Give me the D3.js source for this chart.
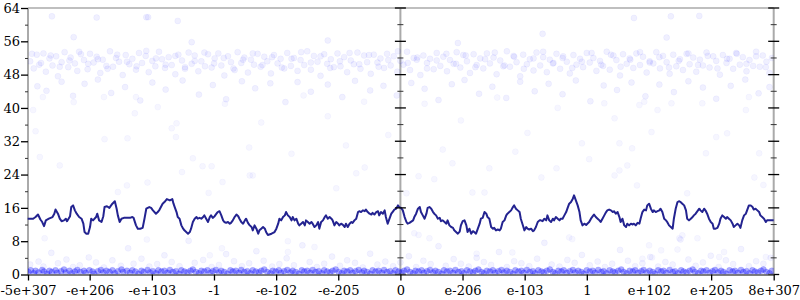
<!DOCTYPE html>
<html><head><meta charset="utf-8">
<script src="https://cdn.jsdelivr.net/npm/d3@7"></script>
<style>
html,body{margin:0;padding:0;background:#fff;}
svg{display:block;font-family:"DejaVu Serif",serif;}
</style></head><body>
<svg id="c" width="800" height="300"></svg>
<script>
// x values are positions in floating-point order, in signed decades (u = sign * (log10|v| + 308))
const xDomain = [-615.5, 617.0];
const xTickValues = [-615.5, -513.6, -410.8, -308.1, -205.4, -102.7, 0, 102.7, 205.4, 308.1, 410.8, 513.6, 617.0];
const xTickLabels = ["-5e+307", "-e+206", "-e+103", "-1", "-e-102", "-e-205", "0", "e-206", "e-103", "1", "e+102", "e+205", "8e+307"];
const yMajorTicks = [0, 8, 16, 24, 32, 40, 48, 56, 64];
const yMinorTicks = [4, 12, 20, 28, 36, 44, 52, 60];

const lineAvg = [[-616,13.4],[-607,13.4],[-603,13.8],[-599,14.4],[-595,13.2],[-592,12.6],[-589,11.6],[-586,13.0],[-581,13.4],[-575,13.8],[-572,14.6],[-570,15.6],[-566,14.6],[-563,13.4],[-560,12.8],[-556,13.0],[-553,13.4],[-551,12.8],[-546,14.0],[-544,16.2],[-541,16.6],[-538,15.4],[-535,14.6],[-531,13.8],[-527,13.4],[-524,12.2],[-522,10.2],[-519,9.8],[-516,9.8],[-513,11.4],[-511,13.4],[-508,13.0],[-503,13.8],[-501,14.6],[-498,13.0],[-494,12.6],[-491,14.0],[-489,16.2],[-485,16.4],[-481,16.0],[-479,16.4],[-476,17.0],[-472,17.6],[-469,15.8],[-467,14.2],[-464,12.6],[-461,13.4],[-457,13.6],[-453,13.6],[-447,13.6],[-443,13.8],[-441,13.6],[-437,11.8],[-434,11.0],[-430,11.0],[-426,11.2],[-423,13.4],[-420,15.8],[-415,16.2],[-412,16.0],[-409,15.4],[-404,14.6],[-401,15.0],[-398,15.6],[-393,17.0],[-390,17.4],[-386,18.1],[-381,17.8],[-377,18.1],[-375,17.0],[-373,16.2],
[-370,15.0],[-368,13.8],[-365,13.4],[-362,11.8],[-359,11.0],[-357,10.6],[-354,10.2],[-351,9.8],[-348,10.2],[-346,11.0],[-343,12.6],[-340,13.4],[-337,13.8],[-335,13.4],[-332,13.6],[-329,13.4],[-326,13.8],[-324,14.2],[-321,13.4],[-318,12.6],[-315,13.8],[-313,14.2],[-310,13.6],[-307,14.0],[-304,14.6],[-302,15.0],[-299,15.2],[-296,14.2],[-293,13.0],[-291,12.6],[-288,12.4],[-285,12.6],[-282,12.2],[-280,12.4],[-277,13.0],[-274,13.8],[-271,14.4],[-268,14.0],[-266,13.4],[-263,12.6],[-260,12.2],[-257,13.0],[-255,13.4],[-252,12.4],[-249,11.8],[-246,11.4],[-244,10.6],[-241,11.8],[-238,11.0],[-235,9.8],[-233,10.6],[-230,11.0],[-227,11.4],[-224,11.0],[-222,10.2],[-219,9.5],[-213,9.8],[-208,10.2],[-205,11.0],[-202,12.2],[-200,13.4],[-197,13.0],[-194,13.8],[-191,14.2],[-189,15.0],[-186,14.2],[-183,13.8],[-180,13.0],[-178,13.8],[-175,13.0],[-172,13.4],[-169,12.2],[-167,11.8],[-164,12.2],[-161,12.6],[-158,11.8],[-156,13.0],[-153,12.6],[-150,12.2],[-147,12.6],[-145,12.2],[-142,11.4],[-139,11.8],[-136,12.6],[-134,11.0],[-131,12.6],[-128,13.0],[-125,13.8],[-123,14.2],[-120,13.4],
[-117,13.8],[-114,13.4],[-112,13.0],[-109,11.8],[-106,12.6],[-103,12.2],[-101,11.8],[-98,12.2],[-95,11.9],[-92,11.4],[-90,12.2],[-87,11.4],[-84,12.2],[-81,12.6],[-79,12.4],[-76,13.0],[-73,13.4],[-70,15.0],[-68,15.2],[-65,15.0],[-62,15.4],[-59,15.2],[-57,15.6],[-54,15.0],[-51,14.6],[-48,14.4],[-46,14.8],[-43,14.4],[-40,15.0],[-37,15.2],[-35,14.2],[-32,15.0],[-29,14.6],[-26,15.4],[-24,13.8],[-21,12.2],[-18,13.4],[-15,14.6],[-13,15.0],[-10,15.6],[-7,15.8],[-4,16.6],[-2,16.2],[1,16.0],[4,15.4],[7,13.8],[10,12.6],[12,12.2],[15,12.4],[18,12.7],[21,13.0],[23,13.8],[26,14.6],[29,15.8],[32,16.2],[34,15.0],[37,14.2],[40,13.4],[43,14.6],[45,16.0],[48,16.2],[51,15.8],[54,15.0],[56,14.6],[59,14.2],[62,13.4],[65,13.6],[67,12.8],[70,13.0],[73,12.6],[76,12.2],[78,13.0],[81,11.8],[84,11.4],[87,11.2],[89,10.6],[92,10.2],[95,9.8],[98,10.3],[100,11.8],[103,12.8],[106,13.0],[109,11.8],[111,10.2],[114,11.0],[117,9.8],[120,10.4],[122,10.2],[125,9.8],[128,11.0],[131,12.2],[133,13.4],[136,13.6],
[139,15.0],[142,14.6],[144,13.8],[147,13.4],[150,11.4],[153,11.0],[155,11.2],[158,10.6],[161,10.8],[164,10.6],[166,11.0],[169,12.6],[172,13.0],[175,14.2],[177,14.6],[180,15.0],[183,15.4],[186,16.2],[188,16.6],[191,15.8],[194,15.4],[197,15.0],[199,13.4],[202,12.0],[205,10.6],[208,11.4],[210,11.0],[213,10.8],[216,11.0],[219,10.4],[221,10.6],[224,11.4],[227,12.6],[230,13.0],[232,13.0],[235,12.8],[238,13.4],[241,13.0],[243,14.2],[246,13.0],[249,12.6],[252,13.4],[254,13.0],[257,13.8],[260,13.4],[263,13.0],[265,13.4],[268,13.4],[271,14.2],[274,15.0],[276,15.8],[279,17.0],[282,17.4],[285,18.2],[287,19.0],[290,17.8],[293,16.6],[296,15.0],[298,13.0],[301,11.8],[304,12.2],[307,11.9],[309,12.2],[312,12.6],[315,13.4],[318,14.0],[320,14.4],[323,13.8],[326,13.4],[329,13.0],[331,12.6],[334,13.4],[337,14.2],[340,15.0],[342,15.4],[345,15.6],[348,15.4],[351,15.0],[353,15.2],[356,14.6],[359,15.0],[362,13.8],[364,12.6],[367,13.4],[370,11.8],[373,11.4],[375,12.2],[378,11.8],[381,12.2],[384,12.0],[386,12.2],[389,11.8],[392,12.4],
[395,12.2],[397,13.4],[400,15.0],[403,15.6],[406,15.4],[408,16.6],[411,17.0],[414,15.8],[417,15.0],[419,15.4],[422,15.0],[425,15.2],[428,15.4],[430,15.8],[433,15.0],[436,13.4],[439,13.0],[441,12.6],[444,11.8],[447,11.4],[450,11.0],[452,13.4],[455,15.8],[458,17.4],[461,17.6],[463,17.4],[466,17.0],[469,16.6],[472,15.4],[474,13.4],[477,13.0],[480,13.4],[483,13.8],[485,14.2],[488,14.6],[491,15.2],[494,15.8],[496,15.4],[499,15.0],[502,15.8],[505,15.2],[507,14.6],[510,13.4],[513,12.6],[516,12.2],[518,11.0],[521,11.0],[524,11.2],[527,12.2],[529,13.4],[532,14.2],[535,13.8],[538,13.4],[540,13.8],[543,13.4],[546,13.0],[549,12.2],[551,11.4],[554,11.8],[557,12.2],[560,11.8],[562,11.2],[565,13.0],[568,14.2],[571,14.6],[573,15.4],[576,16.6],[579,16.6],[582,16.2],[584,15.6],[587,15.8],[590,15.4],[593,15.0],[595,14.2],[598,13.8],[601,13.4],[604,12.6],[606,13.0],[609,13.0],[612,13.0],[615,13.0],[617,13.0]];

const highBand = [[-612,51.2],[-606,49.5],[-601,52.8],[-597,50.4],[-590,53.1],[-586,48.7],[-580,51.9],[-575,50.2],[-569,52.4],[-566,47.6],[-560,51.0],[-555,53.4],[-549,49.8],[-545,52.1],[-538,50.7],[-534,48.9],[-528,52.9],[-523,51.5],[-517,49.3],[-513,53.0],[-507,50.9],[-502,52.3],[-496,48.4],[-492,51.6],[-486,50.1],[-480,53.6],[-475,49.9],[-470,52.0],[-465,51.1],[-459,47.9],[-454,52.7],[-448,50.5],[-443,51.8],[-437,49.2],[-432,53.2],[-427,50.8],[-421,52.5],[-416,48.6],[-410,51.3],[-405,50.0],[-399,53.5],[-394,51.7],[-389,49.6],[-383,52.2],[-378,50.3],[-372,48.1],[-367,52.8],[-361,51.4],[-356,49.4],[-350,53.3],[-345,50.6],[-340,52.6],[-334,48.8],[-329,51.2],[-323,50.0],[-318,52.9],[-312,49.7],[-307,51.9],[-301,53.1],[-296,50.2],[-291,47.8],[-285,52.4],[-280,51.0],[-274,49.1],[-269,53.4],[-263,50.8],[-258,52.1],[-252,48.5],[-247,51.6],[-242,50.4],[-236,53.0],[-231,49.9],[-225,52.3],[-220,51.2],[-214,48.3],[-209,52.7],[-203,50.7],[-198,51.8],[-192,49.5],[-187,53.2],[-181,50.1],[-176,52.0],[-170,48.9],[-165,51.5],[-159,50.3],[-154,53.6],[-148,49.2],[-143,52.5],[-137,51.1],[-132,47.7],[-126,52.9],[-121,50.6],[-115,51.7],[-110,49.8],[-104,53.1],[-99,50.0],[-93,52.2],[-88,48.6],[-82,51.4],[-77,50.5],[-71,53.3],[-66,49.4],[-60,52.6],[-55,51.0],[-49,48.2],[-44,52.8],[-38,50.9],[-33,51.9],[-27,49.6],[-22,53.0],[-16,50.2],[-11,52.4],[-5,48.7],[0,51.3],[5,50.4],[11,53.5],[16,49.1],[22,52.0],[27,51.6],[33,47.9],[38,52.6],[44,50.8],[49,51.8],[55,49.3],[60,53.2],[66,50.1],[71,52.3],[77,48.8],[82,51.5],[88,50.6],[93,53.4],[99,49.7],[104,52.7],[110,51.2],[115,48.4],[121,52.9],[126,50.3],[132,51.9],[137,49.5],[143,53.1],[148,50.7],[154,52.1],[159,48.1],[165,51.4],[170,50.0],[176,53.6],[181,49.9],[187,52.5],[192,51.0],[198,47.6],[203,52.8],[209,50.5],[214,51.7],[220,49.0],[225,53.3],[231,50.2],[236,52.2],[242,48.6],[247,51.6],[253,50.8],[258,53.0],[264,49.4],[269,52.4],[275,51.1],[280,48.3],[286,52.7],[291,50.4],[297,51.8],[302,49.8],[308,53.2],[313,50.9],[319,52.0],[324,48.9],[330,51.3],[335,50.1],[341,53.5],[346,49.2],[352,52.6],[357,51.5],[363,47.8],[368,52.9],[374,50.6],[379,51.9],[385,49.6],[390,53.1],[396,50.3],[401,52.3],[407,48.5],[412,51.2],[418,50.7],[423,53.4],[429,49.5],[434,52.5],[440,51.0],[445,48.2],[451,52.8],[456,50.0],[462,51.7],[467,49.1],[473,53.0],[478,50.5],[484,52.1],[489,48.7],[495,51.6],[500,50.2],[506,53.3],[511,49.7],[517,52.4],[522,51.3],[528,48.0],[533,52.7],[539,50.8],[544,51.8],[550,49.4],[555,53.2],[561,50.4],[566,52.2],[572,48.8],[577,51.5],[583,50.1],[588,53.5],[594,49.9],[599,52.6],[605,51.1],[610,48.4],[614,52.0],
[-609,53.0],[-594,50.8],[-578,52.6],[-563,49.9],[-547,51.4],[-531,53.5],[-516,50.6],[-500,51.7],[-484,49.4],[-468,52.8],[-452,51.1],[-436,50.0],[-420,53.7],[-404,51.9],[-388,50.4],[-372,52.5],[-356,49.8],[-340,51.3],[-324,53.3],[-308,50.7],[-292,52.0],[-276,49.5],[-260,51.6],[-244,53.1],[-228,50.3],[-212,52.2],[-196,49.7],[-180,51.8],[-164,53.4],[-148,50.9],[-132,52.4],[-116,49.6],[-100,51.2],[-84,53.2],[-68,50.5],[-52,52.7],[-36,49.9],[-20,51.5],[-4,53.6],[12,50.8],[28,52.1],[44,49.5],[60,51.4],[76,53.0],[92,50.6],[108,52.6],[124,49.8],[140,51.7],[156,53.3],[172,50.2],[188,52.3],[204,49.4],[220,51.9],[236,53.5],[252,50.7],[268,52.0],[284,49.6],[300,51.1],[316,53.2],[332,50.4],[348,52.8],[364,49.9],[380,51.6],[396,53.4],[412,50.9],[428,52.2],[444,49.7],[460,51.3],[476,53.1],[492,50.3],[508,52.5],[524,49.5],[540,51.8],[556,53.0],[572,50.6],[588,52.4],[604,49.8],
[-600,45.2],[-585,44.1],[-560,46.3],[-541,42.9],[-522,45.8],[-500,46.8],[-478,43.6],[-455,45.0],[-430,41.8],[-410,46.1],[-388,44.4],[-360,46.6],[-333,43.2],[-310,45.5],[-288,42.1],[-262,46.4],[-240,44.7],[-215,45.9],[-190,41.4],[-170,46.2],[-148,43.9],[-120,45.6],[-96,42.6],[-75,46.5],[-50,44.2],[-28,45.3],[-6,43.0],[18,46.0],[40,44.6],[63,41.9],[85,45.7],[106,46.7],[130,43.4],[152,45.1],[175,42.4],[198,46.3],[222,44.0],[245,45.8],[268,43.3],[290,46.6],[314,41.6],[336,45.4],[358,44.3],[382,46.1],[405,42.8],[428,45.6],[452,43.8],[476,46.4],[500,44.9],[522,42.2],[546,45.3],[570,46.8],[592,43.5],[610,45.0],
[-576,62.0],[-502,61.7],[-420,61.8],[-417,61.8],[-368,60.9],[386,61.6],[447,62.0],[494,62.1],[-540,57.0],[-345,55.8],[-120,56.2],[95,55.6],[235,57.8],[440,56.9]];

const midScatter = [[-596,28.2],[-563,26.2],[-343,27.9],[-361,24.6],[-452,21.4],[-467,19.8],[-418,22.1],[-588,8.7],[-419,8.4],[-607,39.5],[-603,34.4],[-591,42.6],[-540,41.4],[-490,42.6],[-489,32.5],[-451,32.7],[-439,38.7],[-437,42.6],[-401,40.2],[-378,35.1],[-370,36.3],[-371,33.0],
[-327,26.0],[-312,26.0],[-249,23.8],[-244,23.8],[-294,22.2],[-317,19.6],[-106,20.7],[-73,24.3],[-59,25.7],[-186,8.0],[-142,6.6],[-295,6.3],[-186,5.4],[-315,4.6],
[-290,41.0],[-230,36.5],[-160,43.0],[-120,38.0],[-60,41.5],[-20,33.5],[-250,30.5],[-180,29.0],[-90,31.0],
[86,26.7],[30,23.6],[56,22.9],[147,25.5],[233,23.3],[258,25.5],[312,27.7],[10,19.5],[119,19.7],[139,19.7],[23,9.9],[30,9.5],[48,8.7],[126,5.0],[185,5.3],[279,8.9],[284,8.5],
[40,41.0],[100,37.0],[160,42.5],[210,34.0],[260,40.0],[300,31.5],[70,30.0],[190,29.5],
[354,23.8],[362,25.0],[375,26.2],[391,21.4],[474,19.5],[505,29.1],[585,23.3],[593,29.1],[600,21.5],[461,8.7],[466,9.4],[411,7.0],[431,5.8],[458,6.0],[491,8.7],[527,4.2],[535,5.4],[416,4.1],[400,3.8],[604,4.2],
[337,41.1],[395,40.7],[403,41.5],[425,39.5],[448,41.1],[499,41.1],[354,37.5],[415,34.2],[522,33.0],[540,33.9],[571,39.5],[362,31.5],[383,30.3],[576,42.6]];

const lowSparse = [[-612,2.4],[-598,3.1],[-590,1.9],[-577,5.2],[-566,2.7],[-552,3.6],[-541,1.8],[-530,2.2],[-515,4.1],[-503,2.9],[-490,1.7],[-476,3.4],[-462,2.1],[-450,6.3],[-441,2.6],[-428,3.8],[-415,1.9],[-402,2.5],[-390,4.6],[-378,3.0],[-365,2.0],[-350,8.1],[-340,2.8],[-326,3.5],[-312,1.8],[-300,2.3],[-288,4.9],[-275,3.2],[-262,2.0],[-250,2.7],[-238,5.6],[-226,3.3],[-212,1.9],[-200,2.5],[-188,3.9],[-176,2.2],[-162,7.0],[-150,3.0],[-138,1.8],[-126,2.6],[-113,4.3],[-100,2.1],[-88,3.4],[-75,2.8],[-62,1.7],[-50,5.0],[-38,2.4],[-25,3.1],[-12,2.0],[0,2.9],[14,4.4],[26,1.8],[38,3.3],[50,2.5],[63,6.8],[75,2.1],[88,3.7],[100,2.6],[113,1.9],[126,4.0],[138,3.0],[150,2.3],[163,5.4],[176,1.8],[188,3.2],[200,2.7],[213,2.0],[226,3.8],[238,7.6],[250,2.4],[263,1.9],[276,3.5],[288,2.8],[300,4.7],[313,2.2],[326,3.1],[338,1.8],[350,2.6],[363,5.9],[376,3.3],[388,2.0],[400,2.7],[413,4.2],[426,1.9],[438,3.0],[450,2.4],[463,8.4],[476,3.6],[488,2.1],[500,2.9],[513,4.5],[526,1.8],[538,3.4],[550,2.5],[563,6.1],[576,2.0],[588,3.2],[600,2.6],[612,4.0]];

const lowBand = [[-615,0.6],[-611,1.0],[-606,0.3],[-603,0.9],[-598,0.5],[-592,1.1],[-589,0.7],[-584,0.2],[-580,0.9],[-576,0.6],[-570,1.0],[-567,0.4],[-561,0.8],[-556,1.2],[-553,0.5],[-547,0.9],[-543,0.3],[-538,0.7],[-534,1.1],[-529,0.6],[-523,0.9],[-520,0.4],[-514,1.0],[-509,0.7],[-506,0.2],[-500,0.8],[-495,1.1],[-491,0.5],[-486,0.9],[-481,0.6],[-476,1.0],[-472,0.3],[-467,0.8],[-461,1.2],[-458,0.6],[-452,0.9],[-447,0.4],[-443,1.0],[-438,0.7],[-433,0.2],[-428,0.9],[-424,0.6],[-418,1.1],[-414,0.5],[-409,0.8],[-404,0.3],[-400,1.0],[-395,0.7],[-390,0.9],[-385,0.4],[-381,1.1],[-376,0.6],[-371,0.8],[-366,0.2],[-362,1.0],[-357,0.7],[-352,0.5],[-347,0.9],[-343,1.2],[-338,0.6],[-333,0.3],[-329,0.9],[-324,0.7],[-319,1.0],[-314,0.4],[-310,0.8],[-305,1.1],[-300,0.5],[-296,0.9],[-291,0.6],[-286,0.2],[-281,1.0],[-277,0.7],[-272,0.9],[-267,0.4],[-263,1.1],[-258,0.6],[-253,0.8],[-248,0.3],[-244,1.0],[-239,0.7],[-234,0.5],[-230,0.9],[-225,1.2],[-220,0.6],[-215,0.3],[-211,0.9],[-206,0.7],[-201,1.0],[-197,0.4],[-192,0.8],[-187,1.1],[-182,0.5],[-178,0.9],[-173,0.6],[-168,0.2],[-163,1.0],[-159,0.7],[-154,0.9],[-149,0.4],[-145,1.1],[-140,0.6],[-135,0.8],[-130,0.3],[-126,1.0],[-121,0.7],[-116,0.5],[-112,0.9],[-107,1.2],[-102,0.6],[-97,0.3],[-93,0.9],[-88,0.7],[-83,1.0],[-79,0.4],[-74,0.8],[-69,1.1],[-64,0.5],[-60,0.9],[-55,0.6],[-50,0.2],[-46,1.0],[-41,0.7],[-36,0.9],[-31,0.4],[-27,1.1],[-22,0.6],[-17,0.8],[-12,0.3],[-8,1.0],[-3,0.7],[2,0.5],[6,0.9],[11,1.2],[16,0.6],[21,0.3],[25,0.9],[30,0.7],[35,1.0],[39,0.4],[44,0.8],[49,1.1],[54,0.5],[58,0.9],[63,0.6],[68,0.2],[72,1.0],[77,0.7],[82,0.9],[87,0.4],[91,1.1],[96,0.6],[101,0.8],[105,0.3],[110,1.0],[115,0.7],[120,0.5],[124,0.9],[129,1.2],[134,0.6],[138,0.3],[143,0.9],[148,0.7],[153,1.0],[157,0.4],[162,0.8],[167,1.1],[171,0.5],[176,0.9],[181,0.6],[186,0.2],[190,1.0],[195,0.7],[200,0.9],[204,0.4],[209,1.1],[214,0.6],[219,0.8],[223,0.3],[228,1.0],[233,0.7],[237,0.5],[242,0.9],[247,1.2],[252,0.6],[256,0.3],[261,0.9],[266,0.7],[270,1.0],[275,0.4],[280,0.8],[285,1.1],[289,0.5],[294,0.9],[299,0.6],[303,0.2],[308,1.0],[313,0.7],[318,0.9],[322,0.4],[327,1.1],[332,0.6],[336,0.8],[341,0.3],[346,1.0],[351,0.7],[355,0.5],[360,0.9],[365,1.2],[369,0.6],[374,0.3],[379,0.9],[384,0.7],[388,1.0],[393,0.4],[398,0.8],[402,1.1],[407,0.5],[412,0.9],[417,0.6],[421,0.2],[426,1.0],[431,0.7],[435,0.9],[440,0.4],[445,1.1],[450,0.6],[454,0.8],[459,0.3],[464,1.0],[468,0.7],[473,0.5],[478,0.9],[483,1.2],[487,0.6],[492,0.3],[497,0.9],[501,0.7],[506,1.0],[511,0.4],[516,0.8],[520,1.1],[525,0.5],[530,0.9],[534,0.6],[539,0.2],[544,1.0],[549,0.7],[553,0.9],[558,0.4],[563,1.1],[567,0.6],[572,0.8],[577,0.3],[582,1.0],[586,0.7],[591,0.5],[596,0.9],[600,1.2],[605,0.6],[610,0.3],[614,0.9]];

const svg = d3.select("#c");
const x = d3.scaleLinear().domain(xDomain).range([28, 773.7]);
const y = d3.scaleLinear().domain([0, 64]).range([274.5, 8]);
const midX = x(0);
const xL = x.range()[0], xR = x.range()[1];

svg.append("defs").append("clipPath").attr("id", "plot")
  .append("rect").attr("x", xL).attr("y", y(64)).attr("width", xR - xL).attr("height", y(0) - y(64));

// frame lines
const gray = "#aaa";
svg.append("line").attr("x1", xL).attr("x2", xR).attr("y1", y(64)).attr("y2", y(64)).attr("stroke", gray).attr("stroke-width", 1.5);
[xL, midX, xR].forEach(px => {
  svg.append("line").attr("x1", px).attr("x2", px).attr("y1", y(64)).attr("y2", y(0)).attr("stroke", gray).attr("stroke-width", 2);
});

// points
const pts = svg.append("g").attr("clip-path", "url(#plot)");
function drawPts(data, fo, so) {
  pts.append("g").selectAll("circle").data(data).join("circle")
    .attr("cx", d => x(d[0])).attr("cy", d => y(d[1])).attr("r", 3)
    .attr("fill", "#0000ff").attr("fill-opacity", fo)
    .attr("stroke", "#0000ff").attr("stroke-opacity", so).attr("stroke-width", 0.8);
}
drawPts(highBand, 0.06, 0.05);
drawPts(midScatter, 0.035, 0.04);
drawPts(lowSparse, 0.05, 0.05);
drawPts(lowBand, 0.32, 0.14);

// average line
svg.append("path").datum(lineAvg)
  .attr("fill", "none").attr("stroke", "#232390").attr("stroke-width", 2).attr("stroke-linejoin", "round")
  .attr("d", d3.line().x(d => x(d[0])).y(d => y(d[1])));

// left axis
const fontCss = "13px 'DejaVu Serif'";
const la = svg.append("g").attr("transform", `translate(${xL},0)`)
  .call(d3.axisLeft(y).tickValues(yMajorTicks).tickSize(7).tickPadding(1).tickFormat(d3.format("d")));
la.select(".domain").remove();
la.selectAll("line").attr("stroke", "#000").attr("stroke-width", 1.3);
la.selectAll("text").style("font", fontCss).attr("fill", "#000");
const lm = svg.append("g").attr("transform", `translate(${xL},0)`)
  .call(d3.axisLeft(y).tickValues(yMinorTicks).tickSize(3).tickFormat(""));
lm.select(".domain").remove();
lm.selectAll("line").attr("stroke", "#333").attr("stroke-width", 1);

// centred ticks on middle and right axes
[midX, xR].forEach(px => {
  svg.append("g").selectAll("line").data(yMajorTicks).join("line")
    .attr("x1", px - 5.5).attr("x2", px + 5.5).attr("y1", d => y(d)).attr("y2", d => y(d))
    .attr("stroke", "#000").attr("stroke-width", 1.3);
  svg.append("g").selectAll("line").data(yMinorTicks).join("line")
    .attr("x1", px - 3).attr("x2", px + 3).attr("y1", d => y(d)).attr("y2", d => y(d))
    .attr("stroke", "#333").attr("stroke-width", 1);
});

// bottom axis
const ba = svg.append("g").attr("transform", `translate(0,${y(0)})`)
  .call(d3.axisBottom(x).tickValues(xTickValues).tickSize(6).tickSizeOuter(0).tickPadding(5)
    .tickFormat((d, i) => xTickLabels[i]));
ba.select(".domain").attr("stroke", "#555").attr("stroke-width", 1.3);
ba.selectAll("line").attr("stroke", "#000").attr("stroke-width", 1.3);
ba.selectAll("text").style("font", fontCss).attr("fill", "#000");
</script>
</body></html>
